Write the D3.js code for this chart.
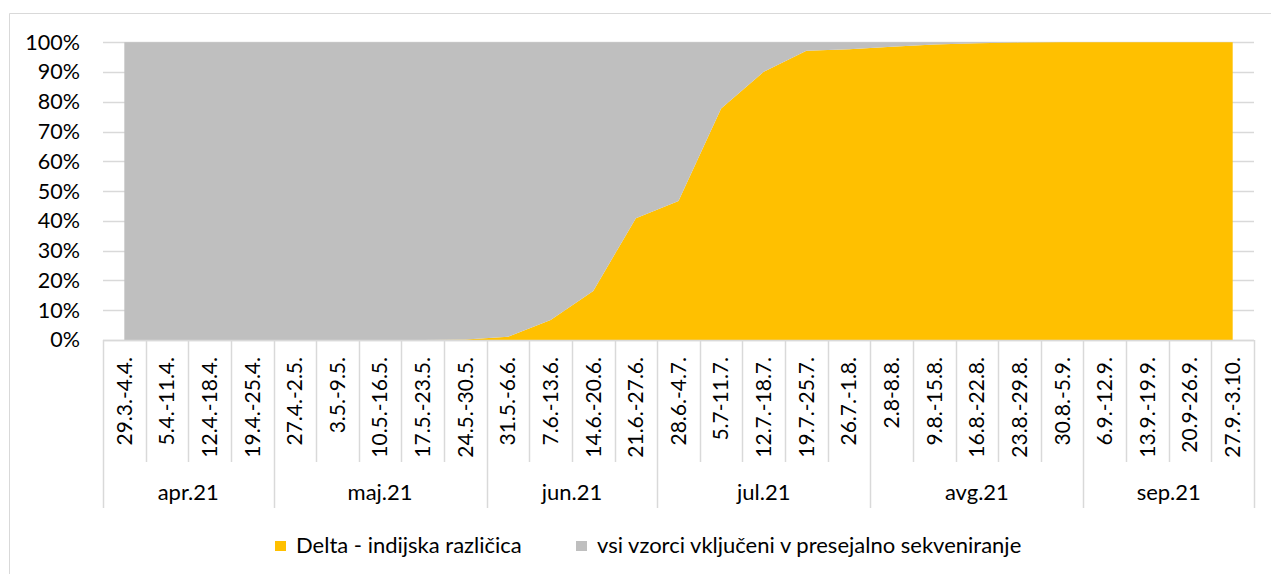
<!DOCTYPE html>
<html>
<head>
<meta charset="utf-8">
<script src="https://cdn.jsdelivr.net/npm/d3@7"></script>
<style>
  body { margin: 0; background: #fff; }
  svg { display: block; }
</style>
</head>
<body>
<svg></svg>
<script>
// weekly windows (x categories)
const weeks = [
  "29.3.-4.4.", "5.4.-11.4.", "12.4.-18.4.", "19.4.-25.4.",
  "27.4.-2.5.", "3.5.-9.5.", "10.5.-16.5.", "17.5.-23.5.", "24.5.-30.5.",
  "31.5.-6.6.", "7.6.-13.6.", "14.6.-20.6.", "21.6.-27.6.",
  "28.6.-4.7.", "5.7-11.7.", "12.7.-18.7.", "19.7.-25.7.", "26.7.-1.8.",
  "2.8-8.8.", "9.8.-15.8.", "16.8.-22.8.", "23.8.-29.8.", "30.8.-5.9.",
  "6.9.-12.9.", "13.9.-19.9.", "20.9-26.9.", "27.9.-3.10."
];
// month groups under the week labels
const months = ["apr.21", "maj.21", "jun.21", "jul.21", "avg.21", "sep.21"];
const monthSizes = [4, 5, 4, 5, 5, 4];

// share of samples (%)
const delta = [
  0, 0, 0, 0, 0, 0, 0, 0, 0.2,
  1.1, 6.7, 16.5, 40.9, 46.7, 77.8, 90.1, 97.2, 97.7,
  98.5, 99.3, 99.7, 99.9, 100, 100, 100, 100, 100
];
const others = [
  100, 100, 100, 100, 100, 100, 100, 100, 99.8,
  98.9, 93.3, 83.5, 59.1, 53.3, 22.2, 9.9, 2.8, 2.3,
  1.5, 0.7, 0.3, 0.1, 0, 0, 0, 0, 0
];
const seriesNames = ["Delta - indijska različica", "vsi vzorci vključeni v presejalno sekveniranje"];
const seriesColors = ["#FFC000", "#BFBFBF"];
const yTicks = [0, 0.1, 0.2, 0.3, 0.4, 0.5, 0.6, 0.7, 0.8, 0.9, 1];

const width = 1271;
const height = 574;
const font = "Lato, 'Open Sans', sans-serif";
const lineColor = "#d9d9d9";

const svg = d3.select("svg").attr("width", width).attr("height", height);

svg.append("rect").attr("width", width).attr("height", height).attr("fill", "#fff");

// chart frame (only top and left edges are in view)
svg.append("line").attr("x1", 9.5).attr("x2", width).attr("y1", 13.5).attr("y2", 13.5)
  .attr("stroke", lineColor);
svg.append("line").attr("x1", 9.5).attr("x2", 9.5).attr("y1", 13.5).attr("y2", height)
  .attr("stroke", lineColor);

const xScale = d3.scaleBand().domain(weeks).range([103, 1254]).padding(0);
const xMid = function (w) {
  return xScale(w) + xScale.bandwidth() / 2;
};

const yScale = d3.scaleLinear().domain([0, 1]).range([340, 42.3]);

// stacked 100% data
const table = weeks.map(function (w, i) {
  const total = delta[i] + others[i];
  return { week: w, delta: delta[i] / total, others: others[i] / total };
});
const stacked = d3.stack().keys(["delta", "others"])(table);

// gridlines
svg.append("g")
  .selectAll("line")
  .data(yTicks)
  .enter()
  .append("line")
  .attr("x1", 103)
  .attr("x2", 1254)
  .attr("y1", function (d) { return Math.round(yScale(d)) + 0.5; })
  .attr("y2", function (d) { return Math.round(yScale(d)) + 0.5; })
  .attr("stroke", lineColor)
  .attr("stroke-width", 1.5);

const area = d3.area()
  .x(function (d) { return xMid(d.data.week); })
  .y0(function (d) { return yScale(d[0]); })
  .y1(function (d) { return yScale(d[1]); });

svg.append("g")
  .selectAll("path")
  .data(stacked)
  .enter()
  .append("path")
  .attr("d", area)
  .attr("fill", function (d, i) { return seriesColors[i]; });

// y axis labels
const yAxis = d3.axisLeft(yScale)
  .tickValues(yTicks)
  .tickFormat(d3.format(".0%"))
  .tickSize(0)
  .tickPadding(0);

svg.append("g")
  .attr("transform", "translate(80, 0)")
  .call(yAxis)
  .call(function (g) { g.select(".domain").remove(); })
  .selectAll("text")
  .attr("fill", "#000")
  .style("font-family", font)
  .style("font-size", "21.5px");

// category axis line
svg.append("line")
  .attr("x1", 103).attr("x2", 1254)
  .attr("y1", 340.5).attr("y2", 340.5)
  .attr("stroke", lineColor).attr("stroke-width", 1.5);

// week dividers
const bounds = weeks.map(function (w) { return xScale(w); }).concat([1254]);
let monthStarts = [0];
monthSizes.forEach(function (n, i) { monthStarts.push(monthStarts[i] + n); });

svg.append("g")
  .selectAll("line")
  .data(bounds)
  .enter()
  .append("line")
  .attr("x1", function (d) { return Math.round(d) + 0.5; })
  .attr("x2", function (d) { return Math.round(d) + 0.5; })
  .attr("y1", 340)
  .attr("y2", function (d, i) {
    return monthStarts.indexOf(i) >= 0 ? 508 : 462;
  })
  .attr("stroke", lineColor)
  .attr("stroke-width", 1.5);

// rotated week labels
svg.append("g")
  .selectAll("text")
  .data(weeks)
  .enter()
  .append("text")
  .attr("transform", function (d) {
    return "translate(" + xMid(d) + ", 357) rotate(-90)";
  })
  .attr("dy", "0.35em")
  .attr("text-anchor", "end")
  .text(function (d) { return d; })
  .attr("fill", "#000")
  .style("font-family", font)
  .style("font-size", "21px");

// month labels
svg.append("g")
  .selectAll("text")
  .data(months)
  .enter()
  .append("text")
  .attr("x", function (d, i) {
    const a = bounds[monthStarts[i]];
    const b = bounds[monthStarts[i + 1]];
    return (a + b) / 2;
  })
  .attr("y", 500)
  .attr("text-anchor", "middle")
  .text(function (d) { return d; })
  .attr("fill", "#000")
  .style("font-family", font)
  .style("font-size", "22px");

// legend
const legendX = [275, 576];
const legend = svg.append("g")
  .selectAll("g")
  .data(seriesNames)
  .enter()
  .append("g")
  .attr("transform", function (d, i) { return "translate(" + legendX[i] + ", 541)"; });

legend.append("rect")
  .attr("width", 11)
  .attr("height", 10)
  .attr("fill", function (d, i) { return seriesColors[i]; });

legend.append("text")
  .attr("x", 21)
  .attr("y", 12)
  .text(function (d) { return d; })
  .attr("fill", "#000")
  .style("font-family", font)
  .style("font-size", "22px");
</script>
</body>
</html>
